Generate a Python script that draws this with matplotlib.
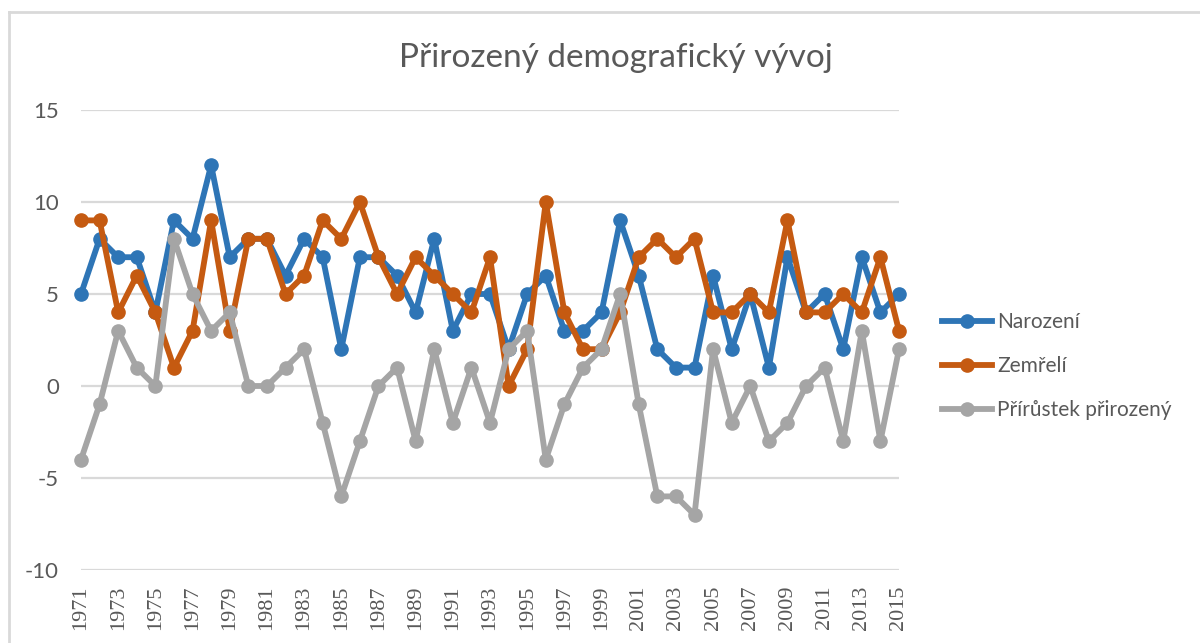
import matplotlib
matplotlib.use("Agg")
import matplotlib.pyplot as plt
from matplotlib.lines import Line2D

years = list(range(1971, 2016))
narozeni = [5, 8, 7, 7, 4, 9, 8, 12, 7, 8, 8, 6, 8, 7, 2, 7, 7, 6, 4, 8, 3, 5, 5, 2, 5,
            6, 3, 3, 4, 9, 6, 2, 1, 1, 6, 2, 5, 1, 7, 4, 5, 2, 7, 4, 5]
zemreli = [9, 9, 4, 6, 4, 1, 3, 9, 3, 8, 8, 5, 6, 9, 8, 10, 7, 5, 7, 6, 5, 4, 7, 0, 2,
           10, 4, 2, 2, 4, 7, 8, 7, 8, 4, 4, 5, 4, 9, 4, 4, 5, 4, 7, 3]
prirustek = [-4, -1, 3, 1, 0, 8, 5, 3, 4, 0, 0, 1, 2, -2, -6, -3, 0, 1, -3, 2, -2, 1, -2, 2, 3,
             -4, -1, 1, 2, 5, -1, -6, -6, -7, 2, -2, 0, -3, -2, 0, 1, -3, 3, -3, 2]
series_names = ["Narození", "Zemřelí", "Přírůstek přirozený"]
colors = ["#2E75B6", "#C55A11", "#A5A5A5"]
yticks = [-10, -5, 0, 5, 10, 15]
title = "Přirozený demografický vývoj"

fig = plt.figure(figsize=(12, 6.43), dpi=100)
ax = fig.add_axes([81/1200, 1-570/643, (899-81)/1200, (570-110)/643])

for vals, name, c in zip([narozeni, zemreli, prirustek], series_names, colors):
    ax.plot(years, vals, color=c, lw=4.2, marker="o", ms=9.5, label=name,
            clip_on=False, zorder=3, solid_joinstyle="round")

ax.set_xlim(1971, 2015)
ax.set_ylim(-10, 15)
ax.set_yticks(yticks)
ax.set_yticklabels([str(v) for v in yticks], fontsize=16, color="#595959", family=["Lato", "DejaVu Sans"])
ax.set_xticks(years[::2])
ax.set_xticklabels([str(y) for y in years[::2]], rotation=90, fontsize=16,
                   color="#595959", family=["Liberation Serif", "DejaVu Serif"])
ax.tick_params(axis="y", length=0, pad=16)
ax.tick_params(axis="x", length=0, pad=11)
ax.grid(axis="y", color="#D9D9D9", lw=1.6, zorder=0)
for s in ax.spines.values():
    s.set_visible(False)

fig.text(616/1200, 1-58/643, title, ha="center", va="center", fontsize=24,
         color="#595959", family=["Lato", "DejaVu Sans"], fontweight="normal")

handles = [Line2D([0], [0], color=c, lw=4.2, marker="o", ms=9.5) for c in colors]
leg = fig.legend(handles, series_names, loc="center left", bbox_to_anchor=(923/1200, 1-366/643),
                 frameon=False, handlelength=2.4, handletextpad=0.25, labelspacing=1.15,
                 prop={"family": ["Lato", "DejaVu Sans"], "size": 15})
for t in leg.get_texts():
    t.set_color("#595959")

# chart area frame
fig.add_artist(Line2D([9/1200, 1], [1-12/643, 1-12/643], color="#D9D9D9", lw=2, transform=fig.transFigure))
fig.add_artist(Line2D([9/1200, 9/1200], [0, 1-12/643], color="#D9D9D9", lw=2, transform=fig.transFigure))

fig.savefig("out.png", dpi=100)
